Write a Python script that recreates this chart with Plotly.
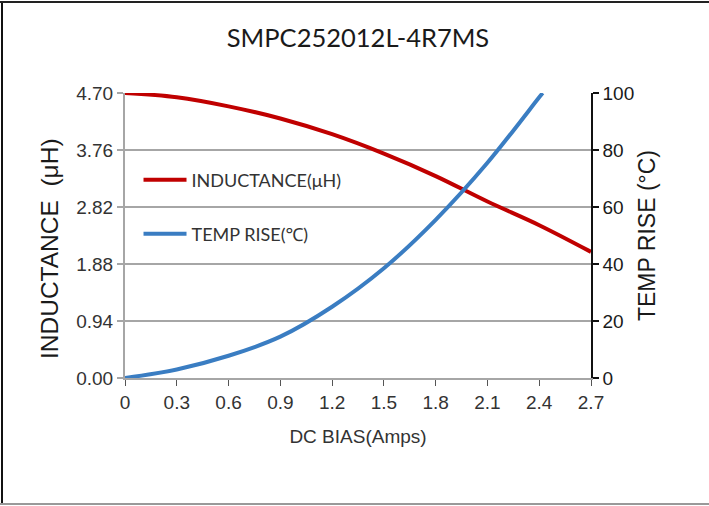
import plotly.graph_objects as go

# ---- data ----
dc_bias = [0, 0.3, 0.6, 0.9, 1.2, 1.5, 1.8, 2.1, 2.4, 2.7]
inductance = [4.70, 4.63, 4.48, 4.28, 4.02, 3.70, 3.33, 2.91, 2.52, 2.08]

temp_bias = [0, 0.3, 0.6, 0.9, 1.2, 1.5, 1.8, 2.1, 2.4, 2.42]
temp_rise = [0, 3.0, 7.8, 14.5, 25.0, 38.5, 55.5, 75.5, 98.5, 100]

x_ticks = [0, 0.3, 0.6, 0.9, 1.2, 1.5, 1.8, 2.1, 2.4, 2.7]
x_ticklabels = ["0", "0.3", "0.6", "0.9", "1.2", "1.5", "1.8", "2.1", "2.4", "2.7"]
y1_ticks = [0.00, 0.94, 1.88, 2.82, 3.76, 4.70]
y2_ticks = [0, 20, 40, 60, 80, 100]

title_text = "SMPC252012L-4R7MS"
ind_name = "INDUCTANCE(μH)"
temp_name = "TEMP RISE(℃)"
y1_title = "INDUCTANCE  (μH)"
y2_title = "TEMP RISE (°C)"
x_title = "DC BIAS(Amps)"

RED = "#c00000"
BLUE = "#3a7dc2"
GRID = "#a6a6a6"

ARIAL = "Liberation Sans, Arial, sans-serif"
CALIBRI = "Lato, Noto Sans, sans-serif"

fig = go.Figure()
fig.add_trace(go.Scatter(
    x=dc_bias, y=inductance, mode="lines", name=ind_name,
    line=dict(color=RED, width=4, shape="spline"),
    yaxis="y", legend="legend", showlegend=True,
))
fig.add_trace(go.Scatter(
    x=temp_bias, y=temp_rise, mode="lines", name=temp_name,
    line=dict(color=BLUE, width=4, shape="spline"),
    yaxis="y2", legend="legend2", showlegend=True,
))

legend_font = dict(family=CALIBRI, size=18, color="#333333")

fig.update_layout(
    width=709, height=506,
    showlegend=True,
    margin=dict(l=125, r=118, t=93, b=128),
    paper_bgcolor="white", plot_bgcolor="white",
    title=dict(text=title_text, x=0.5, xref="paper", xanchor="center",
               y=1 - 38 / 506, yref="container", yanchor="middle",
               font=dict(family=CALIBRI, size=25.5, color="#1a1a1a")),
    xaxis=dict(
        range=[0, 2.7], tickvals=x_ticks, ticktext=x_ticklabels,
        showgrid=False, zeroline=False,
        showline=True, linecolor=GRID, linewidth=2,
        ticks="outside", ticklen=6, tickcolor="#555555", tickwidth=1,
        tickfont=dict(family=ARIAL, size=19, color="#333333"),
        title=dict(text=x_title, standoff=18,
                   font=dict(family=ARIAL, size=19, color="#333333")),
    ),
    yaxis=dict(
        range=[0, 4.70], tickvals=y1_ticks, tickformat=".2f",
        showgrid=True, gridcolor=GRID, gridwidth=2, zeroline=False,
        showline=True, linecolor=GRID, linewidth=2,
        ticks="outside", ticklen=6, tickcolor=GRID, tickwidth=2,
        tickfont=dict(family=ARIAL, size=19, color="#333333"),
    ),
    yaxis2=dict(
        range=[0, 100], tickvals=y2_ticks, overlaying="y", side="right",
        showgrid=False, zeroline=False,
        showline=True, linecolor="#111111", linewidth=1.5,
        ticks="outside", ticklen=6, tickcolor="#111111", tickwidth=1.5,
        tickfont=dict(family=ARIAL, size=19, color="#1a1a1a"),
        title=dict(text=y2_title, standoff=6,
                   font=dict(family=ARIAL, size=23, color="#1a1a1a")),
    ),
    legend=dict(x=0.029, y=(378 - 180) / 285, xanchor="left", yanchor="middle",
                bgcolor="rgba(0,0,0,0)", itemwidth=43, font=legend_font),
    legend2=dict(x=0.029, y=(378 - 234) / 285, xanchor="left", yanchor="middle",
                 bgcolor="rgba(0,0,0,0)", itemwidth=43, font=legend_font),
    annotations=[
        dict(text=y1_title, xref="paper", yref="paper",
             x=-75 / 466, y=(378 - 249) / 285, xanchor="center", yanchor="middle",
             textangle=-90, showarrow=False,
             font=dict(family=ARIAL, size=24.5, color="#1a1a1a")),
    ],
    shapes=[
        dict(type="line", xref="paper", yref="paper",
             x0=-123 / 466, x1=-123 / 466, y0=-125 / 285, y1=1 + 91 / 285,
             line=dict(color="#111111", width=2)),
        dict(type="line", xref="paper", yref="paper",
             x0=-125 / 466, x1=1 + 118 / 466, y0=1 + 91 / 285, y1=1 + 91 / 285,
             line=dict(color="#222222", width=2)),
        dict(type="line", xref="paper", yref="paper",
             x0=-125 / 466, x1=1 + 118 / 466, y0=-126 / 285, y1=-126 / 285,
             line=dict(color="#999999", width=2)),
    ],
)

fig.write_html("out.html", config={"displayModeBar": False},
               post_script="document.body.style.margin='0';")
